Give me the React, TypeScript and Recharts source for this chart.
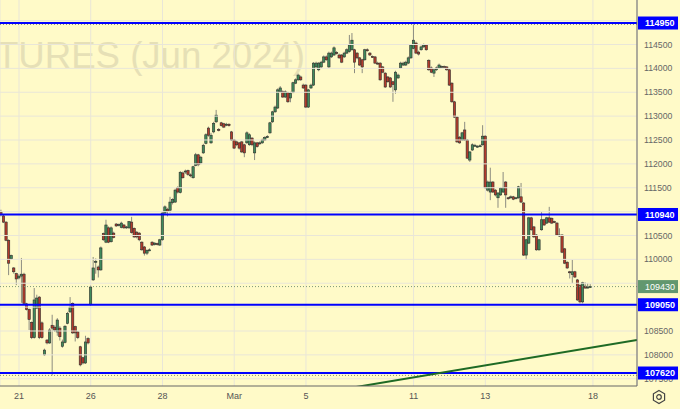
import React from "react";
import { Bar, CartesianGrid, ComposedChart, ReferenceLine, XAxis, YAxis } from "recharts";

// one candle = [open, high, low, close], 14 hourly bars per session
type Candle = [number, number, number, number];

const feb20: Candle[] = [
  [110990, 111040, 110900, 110940], [110910, 110950, 110760, 110780], [110780, 110800, 110380, 110400],
  [110400, 110420, 109670, 109920], [110010, 110100, 109990, 110080], [109820, 109840, 109700, 109740],
  [109700, 109720, 109460, 109590],
];
const feb21: Candle[] = [
  [109610, 109690, 109580, 109650], [109650, 110030, 109090, 109690], [109690, 109720, 109060, 109080],
  [109070, 109090, 108930, 108950], [108950, 108970, 108520, 108740], [108680, 108700, 108330, 108360],
  [108360, 109400, 108340, 109150], [108980, 109260, 108960, 109190], [109210, 109230, 108330, 108360],
  [108670, 108700, 108340, 108360], [108000, 108130, 107980, 108100], [108310, 108330, 108220, 108250],
  [108250, 108560, 108230, 108520], [108620, 108840, 107570, 108560],
];
const feb22: Candle[] = [
  [108580, 108620, 108480, 108520], [108480, 108770, 108400, 108730], [108560, 108600, 108300, 108380],
  [108180, 108320, 108150, 108270], [108260, 108620, 108240, 108600], [108660, 108900, 108640, 108870],
  [108900, 109210, 108880, 109000], [109080, 109100, 108440, 108460], [108590, 108610, 108280, 108460],
  [108480, 108500, 108330, 108360], [108170, 108190, 107760, 107790], [107940, 107960, 107800, 107830],
  [107830, 108400, 107810, 108270], [108340, 108370, 108220, 108250],
];
const feb26: Candle[] = [
  [109060, 109450, 109030, 109420], [109570, 110050, 109550, 109820], [109940, 110020, 109700, 109960],
  [109840, 109870, 109620, 109780], [109780, 110270, 109760, 110240], [110540, 110560, 110390, 110410],
  [110360, 110830, 110340, 110720], [110660, 110690, 110340, 110360], [110370, 110690, 110350, 110660],
  [110550, 110580, 110440, 110460], [110740, 110760, 110680, 110700], [110710, 110750, 110690, 110730],
  [110670, 110790, 110650, 110760], [110720, 110740, 110640, 110660],
];
const feb27: Candle[] = [
  [110660, 110700, 110640, 110680], [110660, 110800, 110640, 110790], [110780, 110890, 110540, 110560],
  [110650, 110670, 110450, 110470], [110570, 110590, 110440, 110470], [110550, 110570, 110380, 110410],
  [110360, 110380, 110180, 110200], [110260, 110280, 110080, 110130], [110130, 110210, 110090, 110190],
  [110190, 110230, 110170, 110200], [110360, 110380, 110280, 110300], [110310, 110360, 110290, 110340],
  [110330, 110350, 110290, 110310], [110300, 110430, 110280, 110410],
];
const feb28: Candle[] = [
  [110410, 110990, 110390, 110970], [110970, 111130, 110950, 111100], [111050, 111080, 110900, 111010],
  [111030, 111310, 110980, 111200], [111190, 111280, 111150, 111250], [111200, 111480, 111180, 111450],
  [111500, 111530, 111380, 111410], [111400, 111850, 111380, 111820], [111810, 111840, 111690, 111710],
  [111830, 111880, 111790, 111850], [111860, 111880, 111750, 111780], [111770, 111800, 111720, 111760],
  [111710, 111960, 111690, 111940], [111970, 112230, 111950, 112190],
];
const feb29: Candle[] = [
  [112190, 112210, 111950, 111980], [112020, 112170, 111990, 112140], [112230, 112420, 112210, 112390],
  [112430, 112640, 112410, 112610], [112750, 112780, 112570, 112600], [112440, 112650, 112420, 112600],
  [112670, 112880, 112640, 112850], [112880, 113130, 112860, 113020], [112720, 112750, 112680, 112700],
  [112860, 112880, 112780, 112800], [112840, 112860, 112750, 112770], [112810, 112860, 112790, 112830],
  [112830, 112850, 112780, 112800], [112670, 112690, 112480, 112500],
];
const mar1: Candle[] = [
  [112500, 112520, 112310, 112330], [112460, 112490, 112370, 112400], [112440, 112460, 112300, 112330],
  [112460, 112480, 112230, 112250], [112400, 112420, 112140, 112230], [112440, 112680, 112420, 112650],
  [112400, 112640, 112380, 112610], [112540, 112560, 112370, 112400], [112230, 112470, 112080, 112440],
  [112440, 112460, 112340, 112360], [112420, 112470, 112400, 112440], [112440, 112530, 112420, 112500],
  [112500, 112580, 112480, 112550], [112560, 112600, 112540, 112570],
];
const mar4: Candle[] = [
  [112650, 112880, 112630, 112860], [112880, 113110, 112860, 113090], [113090, 113220, 113070, 113190],
  [113170, 113580, 113150, 113550], [113510, 113630, 113490, 113590], [113510, 113540, 113380, 113400],
  [113400, 113540, 113380, 113510], [113490, 113510, 113280, 113300], [113380, 113510, 113290, 113480],
  [113500, 113720, 113480, 113700], [113690, 113790, 113670, 113760], [113760, 113890, 113740, 113860],
  [113820, 113850, 113740, 113760], [113650, 113680, 113570, 113590],
];
const mar5: Candle[] = [
  [113650, 113670, 113170, 113190], [113190, 113570, 113170, 113550], [113590, 113680, 113570, 113650],
  [113650, 114130, 113630, 114110], [114030, 114140, 114010, 114110], [113970, 114130, 113940, 114110],
  [114030, 114160, 114010, 114130], [114130, 114270, 114110, 114240], [114240, 114270, 114160, 114180],
  [114030, 114350, 114010, 114320], [114240, 114350, 114220, 114320], [114280, 114460, 114260, 114430],
  [114330, 114360, 114290, 114310], [114280, 114310, 114200, 114220],
];
const mar6: Candle[] = [
  [114280, 114300, 114110, 114130], [114240, 114350, 114220, 114320], [114320, 114420, 114300, 114390],
  [114350, 114700, 114330, 114490], [114390, 114740, 114370, 114590], [114390, 114410, 113900, 114130],
  [114320, 114340, 114190, 114220], [114220, 114240, 114050, 114070], [114180, 114200, 113900, 114030],
  [114180, 114410, 114160, 114390], [114390, 114420, 114350, 114380], [114320, 114340, 114260, 114280],
  [114250, 114270, 114220, 114240], [114240, 114260, 114090, 114110],
];
const mar7: Candle[] = [
  [114110, 114140, 114080, 114100], [114110, 114130, 113740, 113760], [114030, 114050, 113900, 113920],
  [113900, 113920, 113590, 113610], [113820, 113840, 113700, 113720], [113800, 113820, 113590, 113610],
  [113720, 113740, 113300, 113660], [113550, 113950, 113470, 113920], [113800, 113890, 113780, 113860],
  [114010, 114140, 113990, 114110], [114070, 114140, 114050, 114110], [114070, 114160, 114050, 114130],
  [114110, 114250, 114090, 114220], [114220, 114510, 114200, 114490],
];
const mar11: Candle[] = [
  [114420, 114920, 114400, 114590], [114530, 114560, 114300, 114320], [114340, 114370, 114270, 114300],
  [114390, 114480, 114370, 114450], [114450, 114520, 114430, 114490], [114490, 114510, 114370, 114390],
  [114170, 114190, 113950, 113970], [114010, 114040, 113900, 113920], [113900, 114000, 113820, 113970],
  [113970, 114040, 113950, 114010], [114010, 114100, 113990, 114070], [114030, 114060, 114010, 114040],
  [114040, 114060, 114010, 114030], [114030, 114050, 113950, 113970],
];
const mar12: Candle[] = [
  [113970, 113990, 113630, 113650], [113690, 113710, 113280, 113300], [113300, 113320, 112960, 112980],
  [112980, 113000, 112440, 112460], [112560, 112580, 112420, 112440], [112500, 112670, 112480, 112650],
  [112710, 112880, 112480, 112500], [112500, 112520, 112100, 112120], [112080, 112270, 112040, 112250],
  [112290, 112430, 112270, 112400], [112380, 112420, 112360, 112390], [112360, 112390, 112340, 112370],
  [112370, 112410, 112350, 112380], [112400, 112810, 112380, 112580],
];
const mar13: Candle[] = [
  [112580, 112600, 111480, 111500], [111450, 111650, 111420, 111620], [111410, 111920, 111240, 111620],
  [111620, 111640, 111390, 111410], [111450, 111470, 111320, 111350], [111290, 111410, 111080, 111390],
  [111350, 111510, 111330, 111490], [111410, 111830, 111390, 111500], [111620, 111640, 111080, 111350],
  [111290, 111310, 111250, 111280], [111300, 111340, 111270, 111310], [111310, 111330, 111240, 111260],
  [111280, 111310, 111260, 111290], [111290, 111540, 111270, 111520],
];
const mar14: Candle[] = [
  [111310, 111600, 111180, 111200], [111180, 111200, 110070, 110090], [110090, 110430, 109990, 110410],
  [110340, 110890, 110320, 110870], [110870, 110890, 110600, 110620], [110680, 110700, 110450, 110470],
  [110510, 110530, 110180, 110200], [110200, 110430, 110180, 110410], [110620, 110990, 110600, 110830],
  [110830, 110850, 110700, 110720], [110760, 110890, 110740, 110870], [110870, 111100, 110760, 110780],
  [110860, 110880, 110740, 110760], [110790, 110810, 110760, 110780],
];
const mar15: Candle[] = [
  [110760, 110780, 110490, 110510], [110510, 110650, 110470, 110500], [110510, 110530, 110130, 110150],
  [110220, 110240, 109900, 109920], [109940, 109960, 109800, 109820], [109740, 109760, 109600, 109720],
  [109680, 109990, 109500, 109740], [109740, 109760, 109610, 109630], [109570, 109590, 109130, 109150],
  [109460, 109480, 109080, 109110], [109110, 109530, 109080, 109510], [109440, 109520, 109380, 109400],
  [109410, 109500, 109390, 109420], [109420, 109480, 109400, 109430],
];

const sessions = [feb20, feb21, feb22, feb26, feb27, feb28, feb29, mar1, mar4, mar5, mar6, mar7, mar11, mar12, mar13, mar14, mar15];

// bar index of the first candle of each labelled day
const dayTicks = [7, 35, 63, 91, 119, 161, 189, 231];
const dayLabels = ["21", "26", "28", "Mar", "5", "11", "13", "18"];

const gridPrices = [107500, 108000, 108500, 109000, 109500, 110000, 110500, 111000, 111500, 112000, 112500, 113000, 113500, 114000, 114500, 115000];
const coveredPrices = [115000, 111000, 109500, 109000];
const levels = [114950, 110940, 109050, 107620];
const lastPrice = 109430;
const trend = [
  { i: 120, price: 107160 },
  { i: 248.2, price: 108312 },
];

const rows = sessions.flat().map(([o, h, l, c], i) => ({ i, o, h, l, c }));
const rangeHigh = Math.max(...rows.map((r) => r.h));
const rangeLow = Math.min(...rows.map((r) => r.l));

const BG = "#fffac8";
const BLUE = "#0000ff";
const UP = "#3f8a5c";
const DOWN = "#b23b2c";
const GRID = "#e9e6d8";

function CandleShape(props: any) {
  const { x, y, width, height, payload } = props;
  const { o, h, l, c } = payload;
  const top = Math.min(y, y + height);
  const span = Math.abs(height);
  const k = h > l ? span / (h - l) : 0;
  const cx = x + width / 2;
  const bodyTop = top + (h - Math.max(o, c)) * k;
  const bodyH = Math.max(1, Math.abs(o - c) * k);
  const up = c >= o;
  return (
    <g>
      <line x1={cx} x2={cx} y1={top} y2={top + span} stroke="#8c8c80" strokeWidth={1} />
      <rect x={cx - width / 2} y={bodyTop} width={width} height={bodyH} fill={up ? UP : DOWN} stroke="#2e2e2a" strokeWidth={0.6} />
    </g>
  );
}

function PriceTick(props: any) {
  const { y, payload } = props;
  const v = payload.value;
  if (levels.includes(v)) {
    return (
      <g>
        <rect x={638} y={y - 6.5} width={40} height={13} fill={BLUE} />
        <text x={645} y={y} dy="0.35em" fill="#fff" fontWeight="bold" fontSize={9}>
          {v}
        </text>
      </g>
    );
  }
  if (v === lastPrice) {
    return (
      <g>
        <rect x={638} y={y - 6.5} width={40} height={13} fill="#62976f" />
        <text x={645} y={y} dy="0.35em" fill="#fff" fontSize={9}>
          {v}
        </text>
      </g>
    );
  }
  if (coveredPrices.includes(v)) return <g />;
  return (
    <text x={644} y={y} dy="0.35em" fill="#666" fontSize={8.7}>
      {v}
    </text>
  );
}

export default function App() {
  return (
    <div
      style={{
        position: "absolute",
        left: 0,
        top: 0,
        width: 680,
        height: 409,
        background: BG,
        overflow: "hidden",
        fontFamily: '"Liberation Sans", Arial, sans-serif',
      }}
    >
      <svg width={680} height={409} style={{ position: "absolute", left: 0, top: 0 }}>
        <text x={-4} y={68} fontSize={36} fill="#e6e0b6" textLength={309} lengthAdjust="spacingAndGlyphs">
          TURES (Jun 2024)
        </text>
      </svg>
      <ComposedChart
        width={680}
        height={409}
        data={rows}
        margin={{ top: 0, right: 0, bottom: 0, left: 0 }}
        style={{ position: "absolute", left: 0, top: 0 }}
      >
        <CartesianGrid stroke={GRID} horizontal={false} />
        <XAxis
          type="number"
          dataKey="i"
          domain={[-0.41, 248.2]}
          allowDataOverflow
          ticks={dayTicks}
          interval={0}
          tickFormatter={(v: number) => dayLabels[dayTicks.indexOf(v)] ?? ""}
          height={23}
          stroke="#666"
          tickLine={false}
          tickSize={5}
          tick={{ fill: "#555", fontSize: 9 }}
        />
        <YAxis
          orientation="right"
          width={43}
          domain={[107348, 115432]}
          allowDataOverflow
          ticks={[...gridPrices, lastPrice, ...levels]}
          interval={0}
          stroke="#666"
          tickLine={false}
          tick={<PriceTick />}
        />
        {gridPrices.map((p) => (
          <ReferenceLine key={"g" + p} y={p} stroke={GRID} strokeWidth={1} />
        ))}
        <Bar dataKey={(d: any) => [d.l, d.h]} barSize={2.6} shape={<CandleShape />} isAnimationActive={false} />
        <ReferenceLine y={rangeHigh} stroke="#8a8a72" strokeDasharray="1 2" />
        <ReferenceLine y={rangeLow} stroke="#8a8a72" strokeDasharray="1 2" />
        <ReferenceLine y={lastPrice} stroke="#7d9a78" strokeDasharray="1 2" />
        {levels.map((p) => (
          <ReferenceLine key={p} y={p} stroke={BLUE} strokeWidth={2} />
        ))}
        <ReferenceLine
          segment={[
            { x: trend[0].i, y: trend[0].price },
            { x: trend[1].i, y: trend[1].price },
          ]}
          stroke="#1e6a24"
          strokeWidth={2}
          ifOverflow="hidden"
        />
      </ComposedChart>
      <svg width={16} height={16} style={{ position: "absolute", left: 651, top: 389 }}>
        <polygon points="8,1.5 13.6,4.75 13.6,11.25 8,14.5 2.4,11.25 2.4,4.75" fill="none" stroke="#444" strokeWidth={1.2} />
        <circle cx={8} cy={8} r={2.3} fill="none" stroke="#444" strokeWidth={1.2} />
      </svg>
    </div>
  );
}
